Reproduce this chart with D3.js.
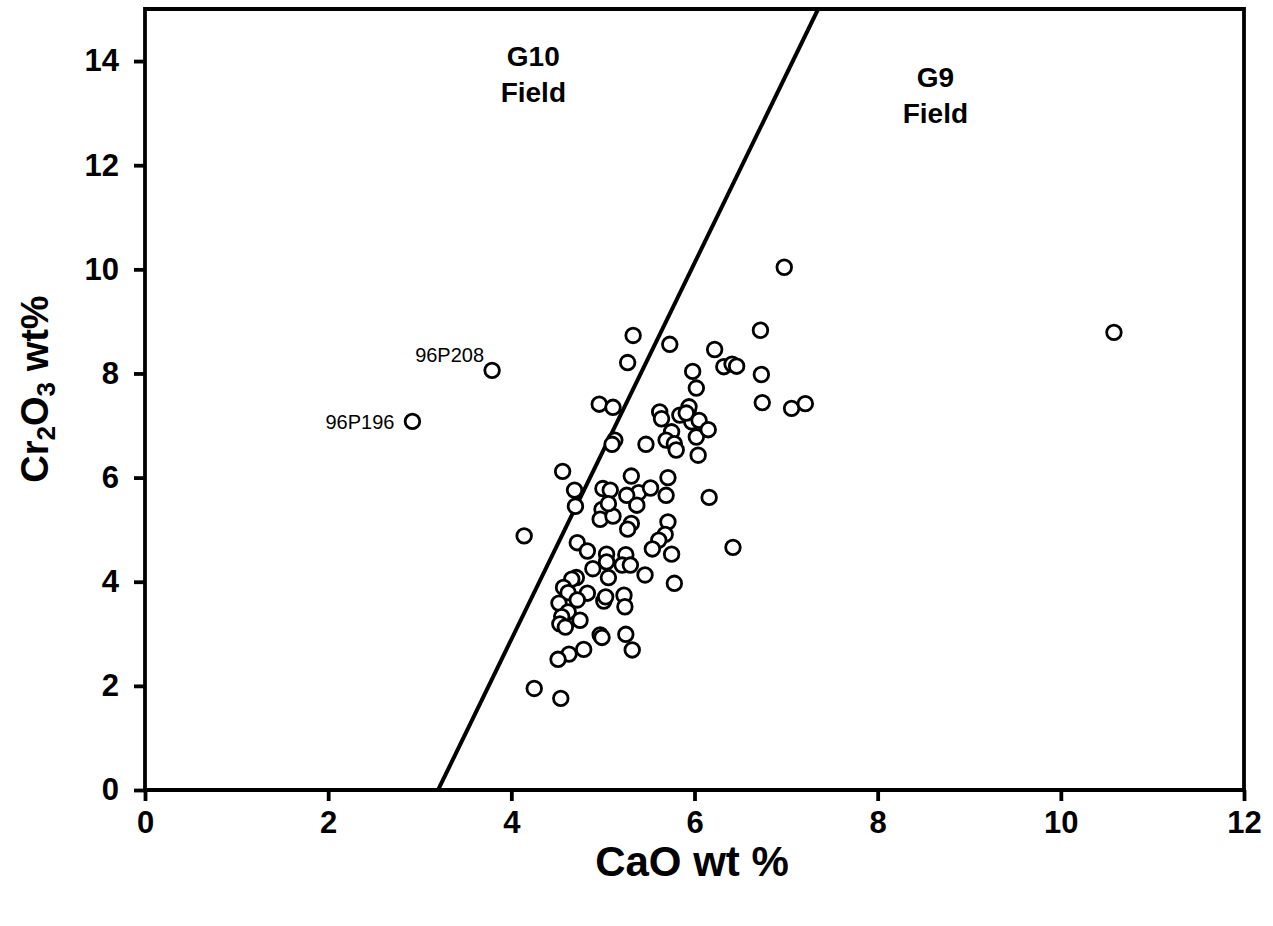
<!DOCTYPE html>
<html>
<head>
<meta charset="utf-8">
<script src="https://cdn.jsdelivr.net/npm/d3@7"></script>
<style>
  html, body { margin: 0; padding: 0; background: #fff; }
  svg { display: block; }
  text { font-family: "Liberation Sans", Arial, sans-serif; }
</style>
</head>
<body>
<svg id="chart" width="1273" height="926"></svg>
<script>
// ---- Data ----
const cao = [5.33,5.73,5.27,5.98,6.02,4.96,5.11,5.62,5.64,5.84,5.93,5.97,5.75,5.69,5.78,5.80,6.02,6.04,5.13,5.10,5.47,4.56,4.69,5.00,5.08,5.31,5.39,5.52,5.71,5.69,5.26,
  4.70,4.99,4.97,5.11,5.37,5.31,5.27,5.71,5.68,5.61,5.54,5.75,5.46,5.78,4.14,4.72,4.83,5.04,5.04,5.25,5.21,5.30,4.89,5.06,4.71,4.66,4.57,4.62,4.83,4.72,4.52,5.01,5.03,5.23,5.24,4.62,4.55,4.75,4.53,4.59,4.97,4.99,5.25,5.32,4.79,4.63,4.51,4.25,4.54,5.06,
  6.98,6.72,6.22,6.32,6.41,6.46,6.73,6.74,7.06,7.21,5.94,5.91,6.05,6.15,6.16,6.42,10.58,3.79,2.92];
const cr2o3 = [8.73,8.56,8.21,8.04,7.72,7.41,7.35,7.26,7.13,7.20,7.26,7.07,6.88,6.72,6.65,6.53,6.78,6.43,6.72,6.64,6.64,6.12,5.76,5.79,5.76,6.03,5.71,5.80,6.00,5.66,5.66,
  5.45,5.39,5.20,5.26,5.47,5.12,5.01,5.15,4.91,4.80,4.63,4.53,4.13,3.97,4.88,4.75,4.59,4.53,4.38,4.52,4.32,4.32,4.25,4.08,4.08,4.05,3.89,3.79,3.78,3.65,3.59,3.63,3.71,3.74,3.52,3.42,3.33,3.26,3.19,3.13,2.98,2.93,2.99,2.69,2.70,2.61,2.51,1.95,1.76,5.50,
  10.04,8.83,8.46,8.13,8.18,8.14,7.98,7.44,7.33,7.42,7.36,7.24,7.10,6.92,5.62,4.66,8.79,8.06,7.08];
const sampleNames = ["96P208", "96P196"];
const sampleCao = [3.79, 2.92];
const sampleCr = [8.06, 7.08];
const boundaryCao = [3.2, 7.35];
const boundaryCr = [0, 15];
const fieldNames = [["G10", "Field"], ["G9", "Field"]];
const fieldCao = [4.24, 8.63];
const fieldCr = [13.9, 13.5];
const xTicks = [0, 2, 4, 6, 8, 10, 12];
const yTicks = [0, 2, 4, 6, 8, 10, 12, 14];

// ---- Layout ----
const svg = d3.select("#chart");
const pLeft = 145, pRight = 1244, pTop = 9, pBottom = 790;
const x = d3.scaleLinear().domain([0, 12]).range([pLeft, pRight]);
const y = d3.scaleLinear().domain([0, 15]).range([pBottom, pTop]);
const labelOffsets = [{dx: -8, dy: -8}, {dx: -18, dy: 8}];

svg.append("defs").append("clipPath").attr("id", "plotclip")
  .append("rect").attr("x", pLeft).attr("y", pTop).attr("width", pRight - pLeft).attr("height", pBottom - pTop);

// Boundary line
svg.append("line")
  .attr("clip-path", "url(#plotclip)")
  .attr("x1", x(boundaryCao[0])).attr("y1", y(boundaryCr[0]))
  .attr("x2", x(boundaryCao[1])).attr("y2", y(boundaryCr[1]))
  .attr("stroke", "#000").attr("stroke-width", 4);

// Frame (top and right)
svg.append("path")
  .attr("d", `M${pLeft},${y(15)}H${x(12)}V${pBottom}`)
  .attr("fill", "none").attr("stroke", "#000").attr("stroke-width", 3.8);

// Axes
const xAxis = svg.append("g").attr("transform", `translate(0,${pBottom})`)
  .call(d3.axisBottom(x).tickValues(xTicks).tickSize(11).tickSizeOuter(0).tickPadding(10));
const yAxis = svg.append("g").attr("transform", `translate(${pLeft},0)`)
  .call(d3.axisLeft(y).tickValues(yTicks).tickSize(11).tickSizeOuter(0).tickPadding(15));

[xAxis, yAxis].forEach(g => {
  g.select(".domain").attr("stroke", "#000").attr("stroke-width", 3.8);
  g.selectAll(".tick line").attr("stroke", "#000").attr("stroke-width", 3.8);
  g.selectAll(".tick text").attr("fill", "#000")
    .style("font-family", "'Liberation Sans', Arial, sans-serif")
    .style("font-weight", "bold").style("font-size", "31px");
});
xAxis.select(".domain").attr("d", `M${pLeft - 1.9},0H${pRight + 1.9}`);
yAxis.select(".domain").attr("d", `M0,${pBottom + 1.9}V${y(15) - 1.9}`);

// Points
svg.append("g").selectAll("circle")
  .data(cao.map((c, i) => ({c, r: cr2o3[i]})))
  .join("circle")
  .attr("cx", d => x(d.c)).attr("cy", d => y(d.r)).attr("r", 7.3)
  .attr("fill", "#fff").attr("stroke", "#000").attr("stroke-width", 2.8);

// Sample labels
svg.append("g").selectAll("text")
  .data(sampleNames).join("text")
  .attr("x", (d, i) => x(sampleCao[i]) + labelOffsets[i].dx)
  .attr("y", (d, i) => y(sampleCr[i]) + labelOffsets[i].dy)
  .attr("text-anchor", "end")
  .style("font-size", "20px").attr("fill", "#000")
  .text(d => d);

// Field labels
fieldNames.forEach((lines, k) => {
  const t = svg.append("text")
    .attr("x", x(fieldCao[k])).attr("y", y(fieldCr[k]))
    .attr("text-anchor", "middle")
    .style("font-size", "28px").style("font-weight", "bold");
  lines.forEach((l, i) => {
    t.append("tspan").attr("x", x(fieldCao[k])).attr("dy", i === 0 ? 0 : 36).text(l);
  });
});

// Axis titles
svg.append("text")
  .attr("x", 692).attr("y", 876)
  .attr("text-anchor", "middle")
  .style("font-size", "42px").style("font-weight", "bold")
  .text("CaO wt %");

const yt = svg.append("text")
  .attr("transform", `translate(48,389) rotate(-90)`)
  .attr("text-anchor", "middle")
  .style("font-size", "38px").style("font-weight", "bold");
yt.append("tspan").text("Cr");
yt.append("tspan").text("2").style("font-size", "26px").attr("dy", 7);
yt.append("tspan").text("O").attr("dy", -7);
yt.append("tspan").text("3").style("font-size", "26px").attr("dy", 7);
yt.append("tspan").text(" wt%").attr("dy", -7);
</script>
</body>
</html>
